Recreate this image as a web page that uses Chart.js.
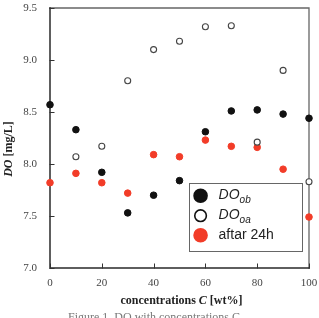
<!DOCTYPE html>
<html>
<head>
<meta charset="utf-8">
<script src="https://cdn.jsdelivr.net/npm/chart.js@4"></script>
<style>
  html, body { margin: 0; padding: 0; background: #fff; }
  #wrap { width: 319px; height: 318px; position: relative; }
</style>
</head>
<body>
<div id="wrap"><canvas id="c" width="319" height="318"></canvas></div>
<script>
const concentrations = [0, 10, 20, 30, 40, 50, 60, 70, 80, 90, 100];
const doOb   = [8.57, 8.33, 7.92, 7.53, 7.70, 7.84, 8.31, 8.51, 8.52, 8.48, 8.44];
const doOaX  = [10, 20, 30, 40, 50, 60, 70, 80, 90, 100];
const doOa   = [8.07, 8.17, 8.80, 9.10, 9.18, 9.32, 9.33, 8.21, 8.90, 7.83];
const after24h = [7.82, 7.91, 7.82, 7.72, 8.09, 8.07, 8.23, 8.17, 8.16, 7.95, 7.49];
const xTicks = [0, 20, 40, 60, 80, 100];
const yTicks = [7.0, 7.5, 8.0, 8.5, 9.0, 9.5];
const legendLabels = [
  { main: 'DO', sub: 'ob' },
  { main: 'DO', sub: 'oa' },
  { main: 'aftar 24h', sub: '' }
];
const xTitle = ['concentrations ', 'C', ' [wt%]'];
const yTitle = ['DO', ' [mg/L]'];
const caption = 'Figure 1  DO with concentrations C';

const RED = '#f23c28';
const pts = (xs, ys) => xs.map((x, i) => ({ x: x, y: ys[i] }));

const frame = {
  id: 'frame',
  beforeDatasetsDraw(chart) {
    const ctx = chart.ctx;
    const a = chart.chartArea;
    const xs = chart.scales.x, ys = chart.scales.y;
    ctx.save();
    ctx.lineCap = 'square';
    ctx.strokeStyle = '#666';
    ctx.lineWidth = 1.3;
    ctx.beginPath();
    ctx.moveTo(a.left, a.top); ctx.lineTo(a.right, a.top); ctx.lineTo(a.right, a.bottom);
    ctx.stroke();
    ctx.strokeStyle = '#2a2a2a';
    ctx.lineWidth = 1.5;
    ctx.beginPath();
    ctx.moveTo(a.left, a.top); ctx.lineTo(a.left, a.bottom); ctx.lineTo(a.right, a.bottom);
    ctx.stroke();
    ctx.lineWidth = 1;
    ctx.strokeStyle = '#333';
    ctx.beginPath();
    yTicks.forEach(v => { const p = Math.round(ys.getPixelForValue(v)) + 0.5; ctx.moveTo(a.left, p); ctx.lineTo(a.left + 4, p); });
    xTicks.forEach(v => { const p = Math.round(xs.getPixelForValue(v)) + 0.5; ctx.moveTo(p, a.bottom); ctx.lineTo(p, a.bottom - 4); });
    ctx.stroke();
    ctx.restore();
  }
};

const decor = {
  id: 'decor',
  afterDraw(chart) {
    const ctx = chart.ctx;
    const a = chart.chartArea;
    const xs = chart.scales.x, ys = chart.scales.y;
    ctx.save();
    // legend
    const lx = xs.getPixelForValue(53.5), lw = 113;
    const ly = ys.getPixelForValue(7.82), lh = 68;
    ctx.fillStyle = '#fff';
    ctx.fillRect(lx, ly, lw, lh);
    ctx.strokeStyle = '#666';
    ctx.lineWidth = 1;
    ctx.strokeRect(Math.round(lx) + 0.5, Math.round(ly) + 0.5, lw, lh);
    const rows = [ly + 13, ly + 33, ly + 52.5];
    const cx = lx + 12;
    const styles = [
      { fill: '#111', stroke: '#111' },
      { fill: '#fff', stroke: '#111' },
      { fill: RED, stroke: RED }
    ];
    legendLabels.forEach((lab, i) => {
      ctx.beginPath();
      ctx.arc(cx, rows[i], i === 1 ? 5.8 : 6.5, 0, Math.PI * 2);
      ctx.fillStyle = styles[i].fill; ctx.fill();
      ctx.lineWidth = 1.6; ctx.strokeStyle = styles[i].stroke; ctx.stroke();
      ctx.fillStyle = '#222';
      ctx.textBaseline = 'middle';
      ctx.textAlign = 'left';
      const tx = lx + 30;
      if (lab.sub) {
        ctx.font = 'italic 14px "Liberation Sans", Arial, sans-serif';
        ctx.fillText(lab.main, tx, rows[i] - 1);
        const w = ctx.measureText(lab.main).width;
        ctx.font = 'italic 10px "Liberation Sans", Arial, sans-serif';
        ctx.fillText(lab.sub, tx + w, rows[i] + 4);
      } else {
        ctx.font = '14px "Liberation Sans", Arial, sans-serif';
        ctx.fillText(lab.main, tx, rows[i]);
      }
    });

    // x title
    ctx.fillStyle = '#222';
    ctx.textBaseline = 'alphabetic';
    const fB = 'bold 12px "Liberation Serif", "DejaVu Serif", serif';
    const fBI = 'bold italic 12px "Liberation Serif", "DejaVu Serif", serif';
    const fonts = [fB, fBI, fB];
    let total = 0;
    xTitle.forEach((t, i) => { ctx.font = fonts[i]; total += ctx.measureText(t).width; });
    let x0 = (a.left + a.right) / 2 - total / 2 + 2;
    xTitle.forEach((t, i) => { ctx.font = fonts[i]; ctx.fillText(t, x0, 304); x0 += ctx.measureText(t).width; });

    // y title
    ctx.save();
    ctx.translate(12, 149);
    ctx.rotate(-Math.PI / 2);
    const yf = [fBI, fB];
    total = 0;
    yTitle.forEach((t, i) => { ctx.font = yf[i]; total += ctx.measureText(t).width; });
    x0 = -total / 2;
    yTitle.forEach((t, i) => { ctx.font = yf[i]; ctx.fillText(t, x0, 0); x0 += ctx.measureText(t).width; });
    ctx.restore();

    // caption (cut off at bottom)
    ctx.fillStyle = '#777';
    ctx.font = '12px "Liberation Serif", "DejaVu Serif", serif';
    ctx.fillText(caption, 68, 321);
    ctx.restore();
  }
};

new Chart(document.getElementById('c'), {
  type: 'scatter',
  data: {
    datasets: [
      {
        label: 'DOob',
        data: pts(concentrations, doOb),
        backgroundColor: '#111', borderColor: '#111',
        pointRadius: 3.3, borderWidth: 1, clip: false
      },
      {
        label: 'DOoa',
        data: pts(doOaX, doOa),
        backgroundColor: '#fff', borderColor: '#444',
        pointRadius: 3, borderWidth: 1.1, clip: false
      },
      {
        label: 'aftar 24h',
        data: pts(concentrations, after24h),
        backgroundColor: RED, borderColor: RED,
        pointRadius: 3.3, borderWidth: 1, clip: false
      }
    ]
  },
  options: {
    responsive: false,
    animation: false,
    devicePixelRatio: 1,
    layout: { padding: { top: 8, right: 10, left: 0, bottom: 0 } },
    plugins: { legend: { display: false }, tooltip: { enabled: false } },
    scales: {
      x: {
        type: 'linear', min: 0, max: 100,
        afterFit: s => { s.height = 50; s.paddingLeft = 0; s.paddingRight = 0; },
        afterBuildTicks: s => { s.ticks = xTicks.map(v => ({ value: v })); },
        grid: { display: false, drawTicks: false },
        border: { display: false },
        ticks: { padding: 9, color: '#444', font: { family: '"Liberation Serif", "DejaVu Serif", serif', size: 11 } }
      },
      y: {
        type: 'linear', min: 7, max: 9.5,
        afterFit: s => { s.width = 50; s.paddingTop = 0; s.paddingBottom = 0; },
        afterBuildTicks: s => { s.ticks = yTicks.map(v => ({ value: v })); },
        grid: { display: false, drawTicks: false },
        border: { display: false },
        ticks: { padding: 13, color: '#444', callback: v => Number(v).toFixed(1), font: { family: '"Liberation Serif", "DejaVu Serif", serif', size: 11 } }
      }
    }
  },
  plugins: [frame, decor]
});
</script>
</body>
</html>
